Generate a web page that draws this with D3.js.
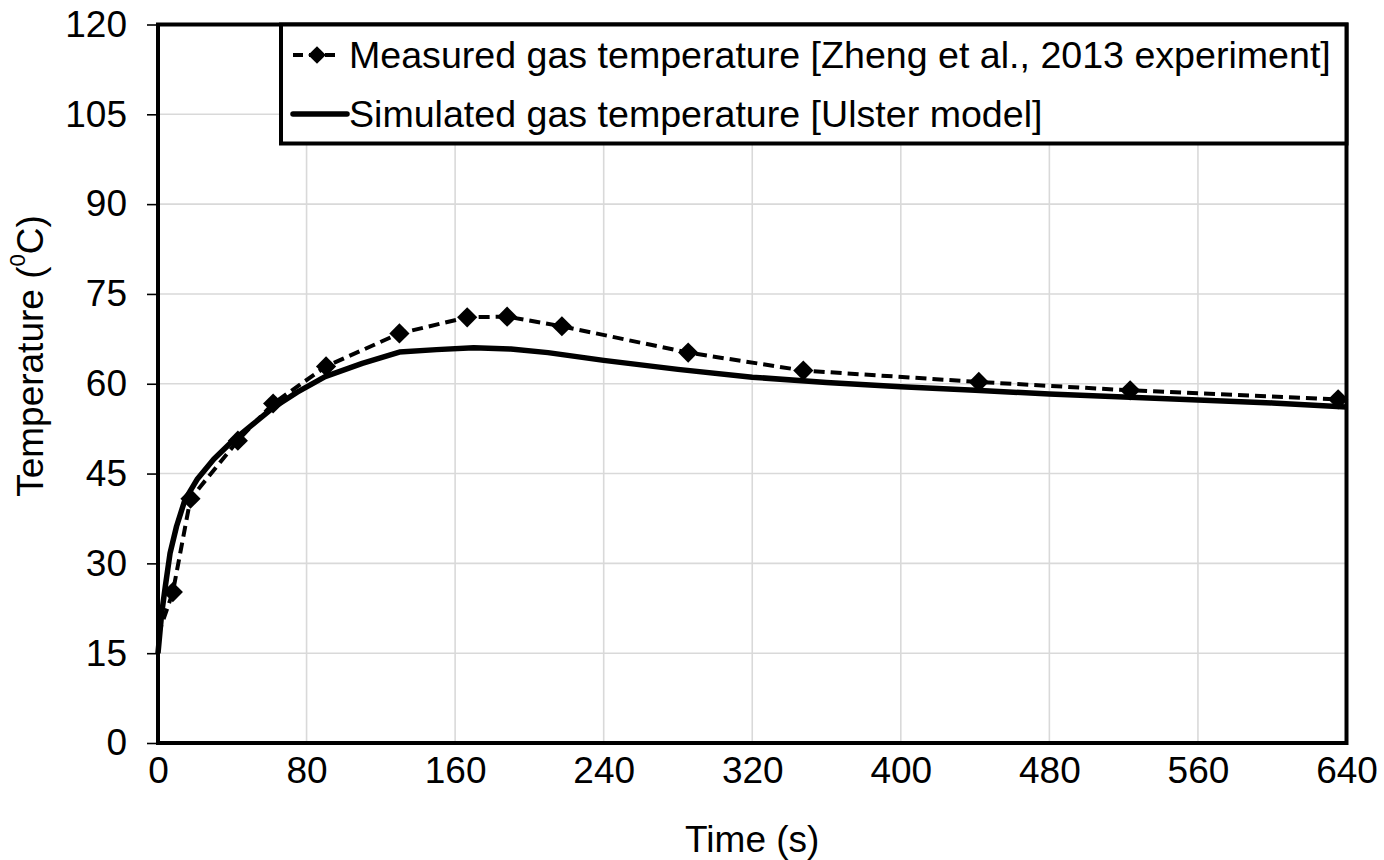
<!DOCTYPE html>
<html>
<head>
<meta charset="utf-8">
<script src="https://cdn.jsdelivr.net/npm/d3@7"></script>
<style>
  html, body { margin: 0; padding: 0; background: #fff; }
  svg { display: block; font-family: "Liberation Sans", Arial, sans-serif; }
</style>
</head>
<body>
<svg id="chart" width="1384" height="860"></svg>
<script>
// Measured gas temperature (Zheng et al., 2013 experiment); the t = 0 reading carries no marker
const measuredTime = [0, 8, 17.5, 43, 62, 90.5, 130, 166.5, 188, 217.5, 285.5, 347.5, 442, 523.5, 635.5];
const measuredTemp = [18, 25.2, 40.8, 50.5, 56.7, 62.9, 68.4, 71.1, 71.2, 69.6, 65.2, 62.2, 60.3, 58.9, 57.4];

// Simulated gas temperature (Ulster model)
const simTime = [0, 2, 4, 6.5, 10, 14.5, 21, 30, 40, 51, 62, 75, 90, 110, 130, 150, 170, 190, 210, 240, 280, 320, 360, 400, 440, 480, 520, 560, 600, 640];
const simTemp = [15, 21.7, 26.3, 31.7, 36.2, 40.6, 44, 47.4, 50.4, 53.2, 56, 58.6, 61.2, 63.4, 65.3, 65.7, 66.0, 65.8, 65.2, 63.9, 62.4, 61.1, 60.2, 59.5, 58.9, 58.3, 57.8, 57.3, 56.8, 56.1];

// Axis ticks
const xTicks = [0, 80, 160, 240, 320, 400, 480, 560, 640];
const yTicks = [0, 15, 30, 45, 60, 75, 90, 105, 120];

const seriesNames = [
  "Measured gas temperature [Zheng et al., 2013 experiment]",
  "Simulated gas temperature [Ulster model]"
];

const svg = d3.select("#chart");
const plot = { left: 158, right: 1346.5, top: 24.5, bottom: 743 };
const FONT = 37;

const x = d3.scaleLinear().domain([0, 640]).range([plot.left, plot.right]);
const y = d3.scaleLinear().domain([0, 120]).range([plot.bottom, plot.top]);

// Gridlines
const grid = svg.append("g").attr("stroke", "#d9d9d9").attr("stroke-width", 1.6);
grid.selectAll("line.h").data(yTicks.slice(1)).join("line")
  .attr("x1", plot.left).attr("x2", plot.right)
  .attr("y1", d => y(d)).attr("y2", d => y(d));
grid.selectAll("line.v").data(xTicks.slice(1)).join("line")
  .attr("x1", d => x(d)).attr("x2", d => x(d))
  .attr("y1", plot.top).attr("y2", plot.bottom);

// Y axis: outside ticks and labels
const yAxis = svg.append("g")
  .attr("transform", `translate(${plot.left},0)`)
  .call(d3.axisLeft(y).tickValues(yTicks).tickSize(11).tickPadding(20).tickSizeOuter(0));
yAxis.select(".domain").remove();
yAxis.selectAll(".tick line").attr("stroke", "#000").attr("stroke-width", 1.6);
yAxis.selectAll(".tick text").attr("font-size", FONT).attr("fill", "#000")
  .attr("font-family", "Liberation Sans, Arial, sans-serif");

// X axis: labels only
const xAxis = svg.append("g")
  .attr("transform", `translate(0,${plot.bottom})`)
  .call(d3.axisBottom(x).tickValues(xTicks).tickSize(0).tickPadding(14).tickSizeOuter(0));
xAxis.select(".domain").remove();
xAxis.selectAll(".tick text").attr("font-size", FONT).attr("fill", "#000")
  .attr("font-family", "Liberation Sans, Arial, sans-serif");

// Series lines
const measured = measuredTime.map((t, i) => [t, measuredTemp[i]]);
const simulated = simTime.map((t, i) => [t, simTemp[i]]);
const line = d3.line().x(d => x(d[0])).y(d => y(d[1]));

svg.append("path").datum(measured)
  .attr("d", line).attr("fill", "none").attr("stroke", "#000")
  .attr("stroke-width", 4).attr("stroke-dasharray", "11,6");

svg.append("path").datum(simulated)
  .attr("d", line).attr("fill", "none").attr("stroke", "#000")
  .attr("stroke-width", 5.5).attr("stroke-linejoin", "round");

const diamond = d3.symbol().type(d3.symbolDiamond2).size(260);
svg.append("g").selectAll("path").data(measured.filter(d => d[0] > 0)).join("path")
  .attr("d", diamond)
  .attr("transform", d => `translate(${x(d[0])},${y(d[1])})`)
  .attr("fill", "#000");

// Plot frame
svg.append("rect")
  .attr("x", plot.left).attr("y", plot.top)
  .attr("width", plot.right - plot.left).attr("height", plot.bottom - plot.top)
  .attr("fill", "none").attr("stroke", "#000").attr("stroke-width", 4);

// Legend
const lg = svg.append("g");
lg.append("rect")
  .attr("x", 281).attr("y", plot.top).attr("width", plot.right - 281).attr("height", 119)
  .attr("fill", "#fff").attr("stroke", "#000").attr("stroke-width", 4);
const rowY = [55, 114];
lg.append("line").attr("x1", 293).attr("x2", 340).attr("y1", rowY[0]).attr("y2", rowY[0])
  .attr("stroke", "#000").attr("stroke-width", 4).attr("stroke-dasharray", "10,6");
lg.append("path").attr("d", d3.symbol().type(d3.symbolDiamond2).size(200))
  .attr("transform", `translate(317,${rowY[0]})`).attr("fill", "#000");
lg.append("line").attr("x1", 293).attr("x2", 347).attr("y1", rowY[1]).attr("y2", rowY[1])
  .attr("stroke", "#000").attr("stroke-width", 5.5).attr("stroke-linecap", "round");
lg.selectAll("text").data(seriesNames).join("text")
  .attr("x", 349).attr("y", (d, i) => rowY[i]).attr("dy", "0.35em")
  .attr("font-size", 37.6).attr("fill", "#000").text(d => d);

// Axis titles
svg.append("text").attr("x", (plot.left + plot.right) / 2).attr("y", 852)
  .attr("text-anchor", "middle").attr("font-size", FONT).text("Time (s)");

const yt = svg.append("text")
  .attr("transform", "translate(43,356) rotate(-90)")
  .attr("text-anchor", "middle").attr("font-size", FONT);
yt.append("tspan").text("Temperature (");
yt.append("tspan").attr("font-size", FONT * 0.6).attr("dy", "-0.8em").text("0");
yt.append("tspan").attr("dy", "0.48em").text("C)");
</script>
</body>
</html>
